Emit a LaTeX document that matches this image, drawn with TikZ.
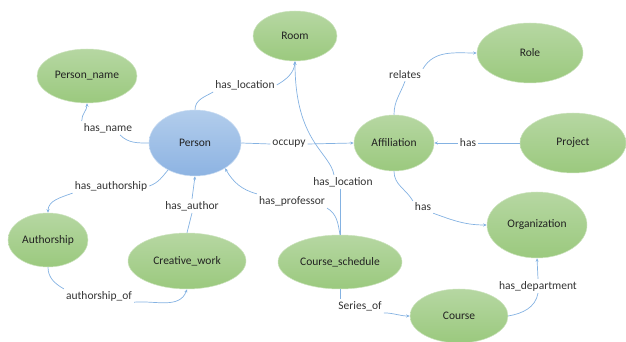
\documentclass[tikz,border=0pt]{standalone}
\usepackage{fontspec}
\setmainfont{Carlito}
\usetikzlibrary{shapes.geometric,arrows.meta}
\definecolor{edgeblue}{HTML}{84B2E2}
\definecolor{greentop}{HTML}{B6D7A2}
\definecolor{greenbot}{HTML}{9BC97E}
\definecolor{bluetop}{HTML}{B2CDEC}
\definecolor{bluebot}{HTML}{8DB3E2}
\definecolor{txt}{HTML}{222222}
\definecolor{lbltxt}{HTML}{333333}
\tikzset{
  ent/.style={ellipse, inner sep=0pt, top color=greentop, bottom color=greenbot,
              draw=greentop!70!white, line width=0.5pt, text=txt, font=\fontsize{11.5}{13}\selectfont},
  person/.style={ent, top color=bluetop, bottom color=bluebot, draw=bluetop!70!white},
  rel/.style={inner sep=2pt, text=lbltxt, font=\fontsize{11.5}{13}\selectfont},
  conn/.style={draw=edgeblue, line width=0.7pt},
  arr/.style={conn, -{Stealth[length=3.5pt,width=3pt]}}
}
\begin{document}
\begin{tikzpicture}[x=1pt,y=1pt]
\useasboundingbox (0,0) rectangle (626,342);
% entities
\node[ent, minimum width=84pt, minimum height=50pt] (Room) at (295,306) {Room};
\node[ent, minimum width=100pt, minimum height=54pt] (Pname) at (87,266) {Person\_name};
\node[person, minimum width=92pt, minimum height=66pt] (Person) at (195,199) {Person};
\node[ent, minimum width=106pt, minimum height=60pt] (Role) at (530,289) {Role};
\node[ent, minimum width=80pt, minimum height=56pt] (Affil) at (394,199) {Affiliation};
\node[ent, minimum width=106pt, minimum height=60pt] (Project) at (573,199) {Project};
\node[ent, minimum width=80pt, minimum height=54pt] (Authorship) at (48,102) {Authorship};
\node[ent, minimum width=118pt, minimum height=56pt] (Cwork) at (187,81) {Creative\_work};
\node[ent, minimum width=124pt, minimum height=54pt] (Csched) at (340,80) {Course\_schedule};
\node[ent, minimum width=100pt, minimum height=66pt] (Org) at (537,117) {Organization};
\node[ent, minimum width=98pt, minimum height=54pt] (Course) at (459,26) {Course};
% relation labels
\node[rel] (hl1) at (245,257) {has\_location};
\node[rel] (hn) at (108,214) {has\_name};
\node[rel] (oc) at (289,198) {occupy};
\node[rel] (rl) at (405,267) {relates};
\node[rel] (hasP) at (468,199) {has};
\node[rel] (ha) at (111,156) {has\_authorship};
\node[rel] (hau) at (192,136) {has\_author};
\node[rel] (hp) at (292,141) {has\_professor};
\node[rel] (hl2) at (343,160) {has\_location};
\node[rel] (hasO) at (423,135) {has};
\node[rel] (ao) at (99,46) {authorship\_of};
\node[rel] (so) at (360,36) {Series\_of};
\node[rel] (hd) at (538,56) {has\_department};
% connectors
\draw[conn] (Person.north) to[out=90,in=210] (hl1.south west);
\draw[arr] (hl1.east) to[out=30,in=-95] (Room.south);
\draw[conn] (Person.west) to[out=180,in=-45] (hn.-30);
\draw[arr] (hn.north west) to[out=90,in=-90] (Pname.south);
\draw[conn] (Person.east) -- (oc.west);
\draw[arr] (oc.east) -- (Affil.west);
\draw[conn] (Affil.north) to[out=90,in=-110] (rl.south);
\draw[arr] (rl.north east) to[out=60,in=180] (Role.west);
\draw[conn] (Project.west) -- (hasP.east);
\draw[arr] (hasP.west) -- (Affil.east);
\draw[conn] (Person.-135) to[out=-130,in=20] (ha.east);
\draw[arr] (ha.south west) to[out=200,in=90] (Authorship.north);
\draw[conn] (Cwork.north) -- (hau.south);
\draw[arr] (hau.north) -- (Person.south);
\draw[conn] (Csched.north) to[out=100,in=-30] (hp.south east);
\draw[arr] (hp.north west) to[out=165,in=-60] (Person.-40);
\draw[conn] (Csched.north) -- (hl2.south -| Csched.north);
\draw[arr] (hl2.north -| 334,0) .. controls (330,190) and (295,200) .. (Room.south);
\draw[conn] (Affil.south) to[out=-90,in=120] (hasO.north west);
\draw[arr] (hasO.south east) to[out=-20,in=180] (Org.west);
\draw[conn] (Authorship.south) to[out=-90,in=150] (ao.north west);
\draw[arr] (ao.-10) to[out=5,in=-110] (Cwork.south);
\draw[conn] (Csched.south) -- (so.north -| Csched.south);
\draw[arr] (so.south east) to[out=0,in=180] (Course.west);
\draw[conn] (Course.east) to[out=10,in=-100] (hd.south);
\draw[arr] (hd.north) -- (Org.south);
\end{tikzpicture}
\end{document}
